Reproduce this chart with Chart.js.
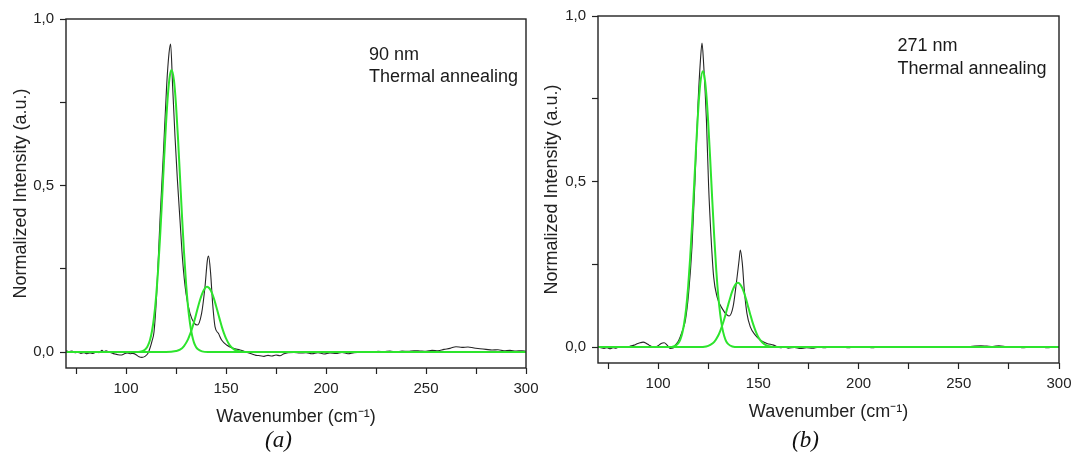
<!DOCTYPE html>
<html><head><meta charset="utf-8">
<script src="https://cdn.jsdelivr.net/npm/chart.js@4.4.1/dist/chart.umd.min.js"></script>
<style>
body{margin:0;background:#fff;width:1072px;height:454px;overflow:hidden;position:relative;font-family:"Liberation Sans",Arial,sans-serif}
canvas{position:absolute;top:0}
#cA{left:0}
#cB{left:536px}
.note{position:absolute;font-size:18px;line-height:22.5px;color:#1a1a1a;white-space:nowrap}
.cap{position:absolute;font-family:"Liberation Serif","Times New Roman",serif;font-style:italic;font-size:23px;line-height:23px;width:100px;text-align:center;color:#111}
</style></head><body>
<canvas id="cA" width="550" height="454"></canvas>
<canvas id="cB" width="536" height="454"></canvas>
<div class="note" style="left:369px;top:42.5px">90 nm<br>Thermal annealing</div>
<div class="note" style="left:897.5px;top:34px">271 nm<br>Thermal annealing</div>
<div class="cap" style="left:228.5px;top:428px">(a)</div>
<div class="cap" style="left:755.5px;top:428px">(b)</div>
<script>
// ---- axis ticks ----
const xTicks = [75, 100, 125, 150, 175, 200, 225, 250, 275, 300];
const xTickLabels = ['', '100', '', '150', '', '200', '', '250', '', '300'];
const yTicks = [0, 0.25, 0.5, 0.75, 1.0];
const yTickLabels = ['0,0', '', '0,5', '', '1,0'];
const xRange = [70, 300];
const yRange = [-0.048, 1.0];
const xTitle = 'Wavenumber (cm\u207B\u00B9)';
const yTitle = 'Normalized Intensity (a.u.)';

// ---- panel (a): 90 nm, measured spectrum ----
const spectrumA_x = [70,71.5,73,74.5,76,77.5,79,80.5,82,83.5,85,86.5,88,89,90,91.5,93,94.5,96,97.5,99,100.5,102,103.5,105,106.5,108,109.5,111,112,113,114,115.3,117,118.7,120.3,121.5,122.3,123.3,124.5,125.7,127,128.3,130,132,134.2,135.7,137.8,139.5,140.7,141.3,142.3,143.3,144.5,146.2,147.8,150.3,153.7,157,159,161,163,165,167,169,171,173,175,177,179,181,184,187,190,193,196,199,202,205,208,211,214,217,220,223,226,229,232,235,238,241,244,247,250,253,256,259,262,265,268,271,274,277,280,283,286,289,292,295,298,300];
const spectrumA_y = [0.004,0.001,0.003,-0.002,-0.001,-0.004,-0.002,-0.005,-0.003,-0.004,0.000,-0.002,0.005,0.001,0.004,0.000,-0.003,-0.006,-0.008,-0.009,-0.006,-0.003,-0.005,-0.004,-0.008,-0.014,-0.016,-0.013,-0.004,0.012,0.033,0.060,0.170,0.396,0.597,0.797,0.897,0.925,0.800,0.647,0.517,0.396,0.276,0.176,0.116,0.086,0.081,0.116,0.196,0.276,0.288,0.237,0.147,0.076,0.056,0.036,0.021,0.011,0.006,0.002,-0.002,-0.006,-0.010,-0.011,-0.013,-0.010,-0.012,-0.009,-0.011,-0.005,-0.002,-0.001,-0.003,-0.002,-0.005,-0.002,-0.006,-0.003,-0.004,-0.001,-0.005,-0.002,-0.001,0.001,-0.001,0.002,0.001,0.003,0.000,0.003,0.002,0.004,0.003,0.002,0.005,0.004,0.008,0.011,0.016,0.014,0.015,0.012,0.010,0.008,0.006,0.007,0.004,0.005,0.003,0.004,0.002];
// fitted components (a)
const fitA1_x = [70,100,105,107,109,110,111,112,113,114,115,116,117,118,119,120,121,122,122.8,124,125,126,127,128,129,130,131,132,133,134,135,136,138,141,150,200,300];
const fitA1_y = [0,0,0,0.001,0.005,0.010,0.020,0.036,0.063,0.104,0.163,0.243,0.341,0.454,0.573,0.685,0.776,0.832,0.847,0.815,0.743,0.642,0.526,0.408,0.300,0.208,0.137,0.086,0.051,0.028,0.015,0.008,0.002,0,0,0,0];
const fitA2_x = [70,100,120,125,127,129,131,132,133,134,135,136,137,138,139,140,140.6,141,142,143,144,145,146,147,148,149,150,152,154,156,159,170,200,300];
const fitA2_y = [0,0,0,0.003,0.007,0.018,0.038,0.053,0.070,0.090,0.112,0.135,0.156,0.174,0.187,0.195,0.196,0.195,0.189,0.177,0.160,0.139,0.117,0.095,0.074,0.056,0.041,0.019,0.008,0.003,0,0,0,0];

// ---- panel (b): 271 nm, measured spectrum ----
const spectrumB_x = [70,71.5,73,74.5,76,77.5,79,80.5,82,83.5,85,86.5,88,89.5,91,92.5,94,95.5,97,98.5,100,101.5,103,104.5,106,107.5,108.6,110.3,111.9,113.6,115.2,116.9,118.6,119.9,121.1,121.9,122.7,124.1,125.2,126.4,127.7,129.4,131.9,134.4,135.5,137.4,139,140.4,141,142,143,144.3,146,148.5,151,154.3,157.6,159,161,163,165,168,171,174,177,180,183,186,189,192,195,198,201,204,207,210,213,216,219,222,225,228,231,234,237,240,243,246,249,252,255,258,261,264,267,270,273,276,279,282,285,288,291,294,297,300];
const spectrumB_y = [0.000,-0.002,-0.004,-0.002,-0.005,-0.002,-0.003,0.000,-0.001,0.002,0.001,0.004,0.006,0.010,0.013,0.015,0.012,0.006,0.001,0.000,0.004,0.011,0.013,0.006,-0.004,-0.003,0.006,0.021,0.046,0.081,0.162,0.303,0.534,0.735,0.866,0.918,0.856,0.685,0.484,0.333,0.212,0.152,0.117,0.097,0.094,0.122,0.192,0.263,0.293,0.253,0.172,0.102,0.061,0.036,0.021,0.011,0.006,0.002,-0.002,0.000,-0.003,-0.001,-0.004,-0.002,-0.003,0.000,-0.002,0.001,-0.001,0.000,-0.002,0.001,-0.001,0.000,-0.002,0.001,0.000,-0.001,0.001,0.000,0.002,0.000,0.001,-0.001,0.001,0.000,0.002,0.001,0.000,0.002,0.001,0.003,0.004,0.003,0.002,0.004,0.002,-0.001,0.001,-0.002,0.000,-0.001,0.001,-0.002,0.000,0.001];
// fitted components (b)
const fitB1_x = [70,100,104,106,108,109,110,111,112,113,114,115,116,117,118,119,120,121,122.3,123,124,125,126,127,128,129,130,131,132,133,134,135,137,140,150,200,300];
const fitB1_y = [0,0,0,0,0.003,0.006,0.011,0.022,0.041,0.072,0.118,0.184,0.271,0.376,0.493,0.612,0.717,0.794,0.833,0.821,0.767,0.677,0.565,0.445,0.332,0.233,0.155,0.098,0.058,0.033,0.017,0.009,0.002,0,0,0,0];
const fitB2_x = [70,100,120,124,126,128,130,131,132,133,134,135,136,137,138,139,139.8,141,142,143,144,145,146,147,148,149,150,152,154,156,158,170,200,300];
const fitB2_y = [0,0,0,0.002,0.007,0.016,0.035,0.049,0.066,0.085,0.107,0.129,0.150,0.169,0.183,0.192,0.194,0.189,0.178,0.162,0.142,0.120,0.098,0.077,0.059,0.043,0.030,0.014,0.005,0.002,0,0,0,0];

// ---- styles ----
const FONT = '"Liberation Sans", Arial, sans-serif';
const INK = '#222';
const GREEN = 'rgb(45,228,45)';
const BLACK = '#262626';

const pts = (xs, ys) => xs.map((x, i) => ({x: x, y: ys[i]}));

const boxPlugin = {
  id: 'box',
  afterDatasetsDraw(chart) {
    const {ctx, chartArea: a} = chart;
    ctx.save();
    ctx.strokeStyle = INK;
    ctx.lineWidth = 1.4;
    ctx.strokeRect(a.left, a.top, a.right - a.left, a.bottom - a.top);
    ctx.restore();
  }
};

function makeChart(id, sx, sy, f1x, f1y, f2x, f2y, g) {
  const line = (data, color, w, order) => ({
    data: data, borderColor: color, borderWidth: w, pointRadius: 0,
    fill: false, cubicInterpolationMode: 'monotone', order: order
  });
  return new Chart(document.getElementById(id), {
    type: 'line',
    data: {
      datasets: [
        line(pts(f1x, f1y), GREEN, 2, 0),
        line(pts(f2x, f2y), GREEN, 2, 0),
        line(pts(sx, sy), BLACK, 1.1, 1)
      ]
    },
    options: {
      responsive: false, animation: false, events: [],
      layout: {padding: {left: 0, right: g.r, top: g.t, bottom: g.b}},
      plugins: {legend: {display: false}, tooltip: {enabled: false}},
      scales: {
        x: {
          type: 'linear', min: xRange[0], max: xRange[1],
          afterBuildTicks: s => { s.ticks = xTicks.map(v => ({value: v})); },
          afterFit: s => { s.height = 60; s.paddingLeft = 0; s.paddingRight = 0; },
          ticks: {
            autoSkip: false, maxRotation: 0, padding: 6, color: INK,
            font: {family: FONT, size: 15},
            callback: v => { const i = xTicks.indexOf(v); return i < 0 ? '' : xTickLabels[i]; }
          },
          grid: {drawOnChartArea: false, drawTicks: true, tickLength: 6, tickColor: INK, tickWidth: 1.2},
          border: {display: false},
          title: {display: true, text: xTitle, color: INK, font: {family: FONT, size: 18}, padding: {top: 0, bottom: 0.5}}
        },
        y: {
          type: 'linear', min: yRange[0], max: yRange[1],
          afterBuildTicks: s => { s.ticks = yTicks.map(v => ({value: v})); },
          afterFit: s => { s.width = g.yW; s.paddingTop = 0; s.paddingBottom = 0; },
          ticks: {
            autoSkip: false, padding: 6, color: INK,
            font: {family: FONT, size: 15},
            callback: v => { const i = yTicks.indexOf(v); return i < 0 ? '' : yTickLabels[i]; }
          },
          grid: {drawOnChartArea: false, drawTicks: true, tickLength: 6, tickColor: INK, tickWidth: 1.2},
          border: {display: false},
          title: {display: true, text: yTitle, color: INK, font: {family: FONT, size: 18}, padding: {top: g.yt, bottom: 0}}
        }
      }
    },
    plugins: [boxPlugin]
  });
}

makeChart('cA', spectrumA_x, spectrumA_y, fitA1_x, fitA1_y, fitA2_x, fitA2_y, {yW: 66, r: 24, t: 19, b: 26, yt: 10.7});
makeChart('cB', spectrumB_x, spectrumB_y, fitB1_x, fitB1_y, fitB2_x, fitB2_y, {yW: 62, r: 13, t: 16, b: 31, yt: 5.7});
</script>
</body></html>
